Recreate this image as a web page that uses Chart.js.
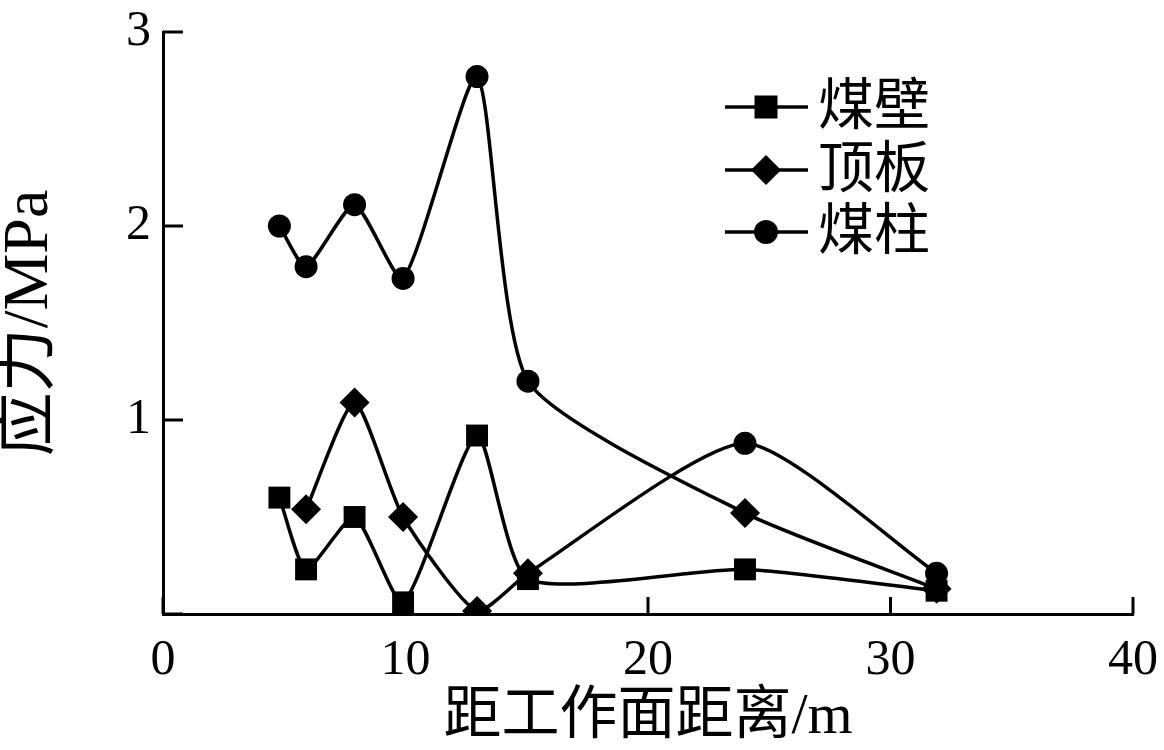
<!DOCTYPE html>
<html><head><meta charset="utf-8">
<script src="https://cdn.jsdelivr.net/npm/chart.js@4.4.0/dist/chart.umd.min.js"></script>
<style>html,body{margin:0;padding:0;background:#fff;}canvas{display:block;}</style>
</head><body>
<canvas id="c" width="1164" height="750"></canvas>
<script>
// ---- data ----
const seriesNames = ['煤壁', '顶板', '煤柱'];
const meibiX  = [4.8, 5.9, 7.9, 9.9, 12.95, 15.05, 24, 31.9];
const meibiY  = [0.60, 0.23, 0.50, 0.06, 0.92, 0.18, 0.23, 0.12];
const dingbanX = [5.9, 7.9, 9.9, 12.95, 15.05, 24, 31.9];
const dingbanY = [0.54, 1.09, 0.50, 0.015, 0.21, 0.88, 0.21];
const meizhuX = [4.8, 5.9, 7.9, 9.9, 12.95, 15.05, 24, 31.9];
const meizhuY = [2.00, 1.79, 2.11, 1.73, 2.77, 1.20, 0.52, 0.13];
const xTicks = [0, 10, 20, 30, 40];
const yTicks = [0, 1, 2, 3];
const xTitle = '距工作面距离/m';
const yTitle = '应力/MPa';

// ---- styling ----
const SERIF = "'Liberation Serif', 'Noto Sans CJK SC', serif";
const radiusFor = {rect: 15.5, rectRot: 15, circle: 11.5};
const swapped = {1: [5, 6], 2: [6, 7]}; // markers drawn with the other series' symbol in the reference
const baseStyle = ['rect', 'rectRot', 'circle'];
function styleAt(ds, i) {
  if (swapped[ds] && swapped[ds].includes(i)) return ds === 1 ? 'circle' : 'rectRot';
  return baseStyle[ds];
}
const zip = (xs, ys) => xs.map((x, i) => ({x, y: ys[i]}));
const seriesData = [zip(meibiX, meibiY), zip(dingbanX, dingbanY), zip(meizhuX, meizhuY)];

const datasets = seriesData.map((d, k) => ({
  label: seriesNames[k],
  data: d,
  borderColor: '#000',
  backgroundColor: '#000',
  borderWidth: 3.5,
  tension: 0.2,
  pointStyle: c => styleAt(k, c.dataIndex),
  pointRadius: c => radiusFor[styleAt(k, c.dataIndex)],
  pointBorderWidth: 0,
  pointBackgroundColor: '#000',
  fill: false
}));

const inwardTicks = {
  id: 'inwardTicks',
  afterDraw(chart) {
    const {ctx, scales: {x, y}, chartArea: a} = chart;
    ctx.save();
    ctx.strokeStyle = '#000';
    ctx.lineWidth = 3;
    xTicks.forEach(v => {
      const px = x.getPixelForValue(v);
      ctx.beginPath(); ctx.moveTo(px, a.bottom); ctx.lineTo(px, a.bottom - 17); ctx.stroke();
    });
    yTicks.forEach(v => {
      const py = y.getPixelForValue(v);
      ctx.beginPath(); ctx.moveTo(a.left, py); ctx.lineTo(a.left + 20, py); ctx.stroke();
    });
    ctx.restore();
  }
};

const lineLegend = {
  id: 'lineLegend',
  afterDraw(chart) {
    const ctx = chart.ctx;
    const x0 = 725, x1 = 808, mx = 766, tx = 818;
    const rowsY = [107, 170, 232];
    ctx.save();
    ctx.fillStyle = '#000'; ctx.strokeStyle = '#000'; ctx.lineWidth = 3.5;
    ctx.font = "56px " + SERIF;
    ctx.textBaseline = 'middle'; ctx.textAlign = 'left';
    seriesNames.forEach((name, k) => {
      const yy = rowsY[k];
      ctx.beginPath(); ctx.moveTo(x0, yy); ctx.lineTo(x1, yy); ctx.stroke();
      ctx.beginPath();
      if (k === 0) { ctx.rect(mx - 11.5, yy - 11.5, 23, 23); }
      else if (k === 1) { ctx.moveTo(mx - 15, yy); ctx.lineTo(mx, yy - 15); ctx.lineTo(mx + 15, yy); ctx.lineTo(mx, yy + 15); ctx.closePath(); }
      else { ctx.arc(mx, yy, 12, 0, Math.PI * 2); }
      ctx.fill();
      ctx.fillText(name, tx, yy + 2);
    });
    ctx.restore();
  }
};

new Chart(document.getElementById('c'), {
  type: 'line',
  data: {datasets},
  options: {
    responsive: false,
    animation: false,
    devicePixelRatio: 1,
    layout: {padding: {top: 32, right: 31, left: 0, bottom: 0}},
    plugins: {legend: {display: false}, tooltip: {enabled: false}},
    scales: {
      x: {
        type: 'linear', min: 0, max: 40,
        afterBuildTicks: s => { s.ticks = xTicks.map(v => ({value: v})); },
        afterFit: s => { s.height = 136; s.paddingLeft = 0; s.paddingRight = 0; },
        grid: {display: false, drawTicks: false},
        border: {display: true, color: '#000', width: 3},
        ticks: {color: '#000', padding: 17, maxRotation: 0, font: {family: SERIF, size: 50}},
        title: {display: true, text: xTitle, color: '#000', padding: {top: 0, bottom: 0},
                font: {family: SERIF, size: 58, lineHeight: 1.1}}
      },
      y: {
        type: 'linear', min: 0, max: 3,
        afterBuildTicks: s => { s.ticks = yTicks.map(v => ({value: v})); },
        afterFit: s => { s.width = 163; s.paddingTop = 0; s.paddingBottom = 0; },
        grid: {display: false, drawTicks: false},
        border: {display: true, color: '#000', width: 3},
        ticks: {color: '#000', padding: 12, font: {family: SERIF, size: 50},
                callback: v => (v === 0 ? '' : String(v))},
        title: {display: true, text: yTitle, color: '#000', padding: {top: 0, bottom: 0},
                font: {family: SERIF, size: 64, lineHeight: 0.95}}
      }
    }
  },
  plugins: [inwardTicks, lineLegend]
});
</script>
</body></html>
